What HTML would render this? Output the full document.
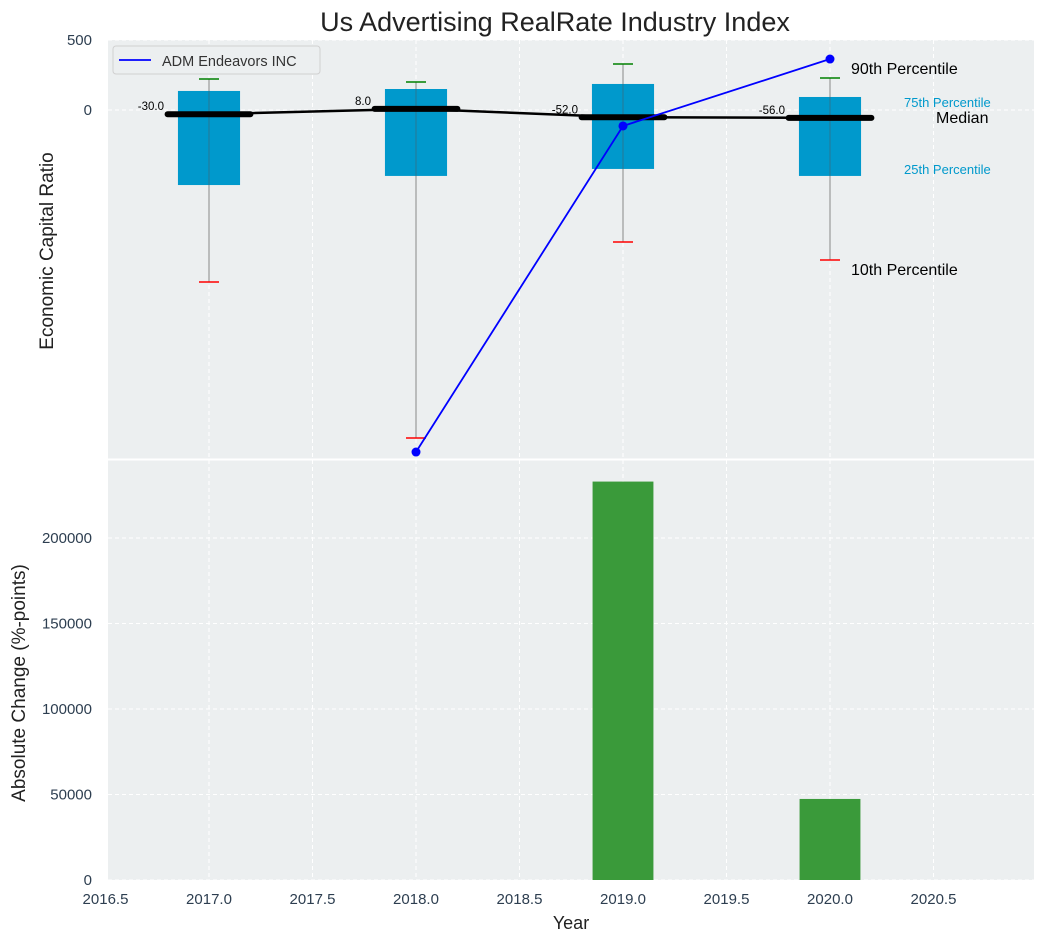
<!DOCTYPE html>
<html><head><meta charset="utf-8"><style>
body{margin:0;background:#fff;font-family:"Liberation Sans","DejaVu Sans",sans-serif}
</style></head><body>
<svg id="c" width="1045" height="942" xmlns="http://www.w3.org/2000/svg"></svg>
<script>
const years=[2017,2018,2019,2020];
const p10=[-1229,-2343,-943,-1071];
const p25=[-536,-471,-421,-471];
const med=[-30,8,-52,-56];
const p75=[136,150,186,93];
const p90=[221,200,329,229];
const compYears=[2018,2019,2020];
const compVals=[-2443,-114,364];
const chgYears=[2019,2020];
const chgVals=[233000,47400];
const xTicks=[2016.5,2017,2017.5,2018,2018.5,2019,2019.5,2020,2020.5];
const yTopTicks=[500,0];
const yBotTicks=[0,50000,100000,150000,200000];

const NS="http://www.w3.org/2000/svg",svg=document.getElementById('c');
function el(t,a,p){const e=document.createElementNS(NS,t);for(const k in a)e.setAttribute(k,a[k]);(p||svg).appendChild(e);return e;}
function tx(s,x,y,a,p){const e=el('text',Object.assign({x:x,y:y},a),p);e.textContent=s;return e;}
const L=108,R=1034;
const X=v=>105.5+(v-2016.5)*207;
const YT=v=>110-v*0.14;
const YB=v=>880-v*85.5/50000;
const pt=el('rect',{x:L,y:40,width:R-L,height:419,fill:'#eceff0'});

const pb=el('rect',{x:L,y:460,width:R-L,height:420,fill:'#eceff0'});

xTicks.forEach(v=>{el('line',{x1:X(v),x2:X(v),y1:40,y2:459,stroke:'#fff','stroke-dasharray':'4,3'});el('line',{x1:X(v),x2:X(v),y1:460,y2:880,stroke:'#fff','stroke-dasharray':'4,3'});
 const t=tx(String(v.toFixed(1)),X(v),904,{'font-size':15,fill:'#2d3e50','text-anchor':'middle'});
 });
yTopTicks.forEach(v=>{el('line',{x1:L,x2:R,y1:YT(v),y2:YT(v),stroke:'#fff','stroke-dasharray':'4,3'});
 const t=tx(String(v),92,YT(v)+5,{'font-size':15,fill:'#2d3e50','text-anchor':'end'});
 });
yBotTicks.forEach(v=>{el('line',{x1:L,x2:R,y1:YB(v),y2:YB(v),stroke:'#fff','stroke-dasharray':'4,3'});
 const t=tx(String(v),92,YB(v)+5,{'font-size':15,fill:'#2d3e50','text-anchor':'end'});
 });
el('line',{x1:L,x2:R,y1:459.5,y2:459.5,stroke:'#fff','stroke-width':2});
years.forEach((y,i)=>{const x=X(y),hw=0.15*207;
 const w=el('line',{x1:x,x2:x,y1:YT(p90[i]),y2:YT(p10[i]),stroke:'#888','stroke-width':1});
 
 const b=el('rect',{x:x-hw,y:YT(p75[i]),width:2*hw,height:YT(p25[i])-YT(p75[i]),fill:'#0099cc'});
 
 el('line',{x1:x,x2:x,y1:YT(p75[i]),y2:YT(p25[i]),stroke:'#555','stroke-width':0.8,opacity:0.6});
 el('line',{x1:x-10,x2:x+10,y1:YT(p90[i]),y2:YT(p90[i]),stroke:'green','stroke-width':1.5});
 el('line',{x1:x-10,x2:x+10,y1:YT(p10[i]),y2:YT(p10[i]),stroke:'red','stroke-width':1.5});
 const m=el('line',{x1:x-0.2*207,x2:x+0.2*207,y1:YT(med[i]),y2:YT(med[i]),stroke:'#000','stroke-width':6,'stroke-linecap':'round'});
 
 const t=tx(med[i].toFixed(1),x-45,YT(med[i])-4,{'font-size':11.5,fill:'#000','text-anchor':'end'});
 
});
const ml=el('polyline',{points:years.map((y,i)=>X(y)+','+YT(med[i])).join(' '),fill:'none',stroke:'#000','stroke-width':2.5});

const cl=el('polyline',{points:compYears.map((y,i)=>X(y)+','+YT(compVals[i])).join(' '),fill:'none',stroke:'blue','stroke-width':1.8});

compYears.forEach((y,i)=>{const c=el('circle',{cx:X(y),cy:YT(compVals[i]),r:4.5,fill:'blue'});
 });
const lx=X(2020);
[['90th Percentile',lx+21,74,16,'#000'],['75th Percentile',lx+74,107,13,'#0099cc'],['Median',lx+106,123,16,'#000'],['25th Percentile',lx+74,174,13,'#0099cc'],['10th Percentile',lx+21,275,16,'#000']].forEach(a=>{
 const t=tx(a[0],a[1],a[2],{'font-size':a[3],fill:a[4]});});
chgYears.forEach((y,i)=>{const b=el('rect',{x:X(y)-0.147*207,y:YB(chgVals[i]),width:0.294*207,height:880-YB(chgVals[i]),fill:'#3a9a3a'});
 });
const lg=el('g',{});
el('rect',{x:113,y:46,width:207,height:28,rx:3,fill:'#eceff0',stroke:'#d0d0d0'},lg);
el('line',{x1:119,x2:151,y1:60,y2:60,stroke:'blue','stroke-width':1.8},lg);
tx('ADM Endeavors INC',162,66,{'font-size':14.5,fill:'#333'},lg);
const ti=tx('Us Advertising RealRate Industry Index',555,31,{'font-size':27,fill:'#222','text-anchor':'middle'});

const xa=tx('Year',571,929,{'font-size':18,fill:'#222','text-anchor':'middle'});

const ya=tx('Economic Capital Ratio',0,0,{'font-size':19,fill:'#222','text-anchor':'middle',transform:'translate(53,251) rotate(-90)'});

const yb=tx('Absolute Change (%-points)',0,0,{'font-size':19,fill:'#222','text-anchor':'middle',transform:'translate(25,683) rotate(-90)'});

</script>
</body></html>
